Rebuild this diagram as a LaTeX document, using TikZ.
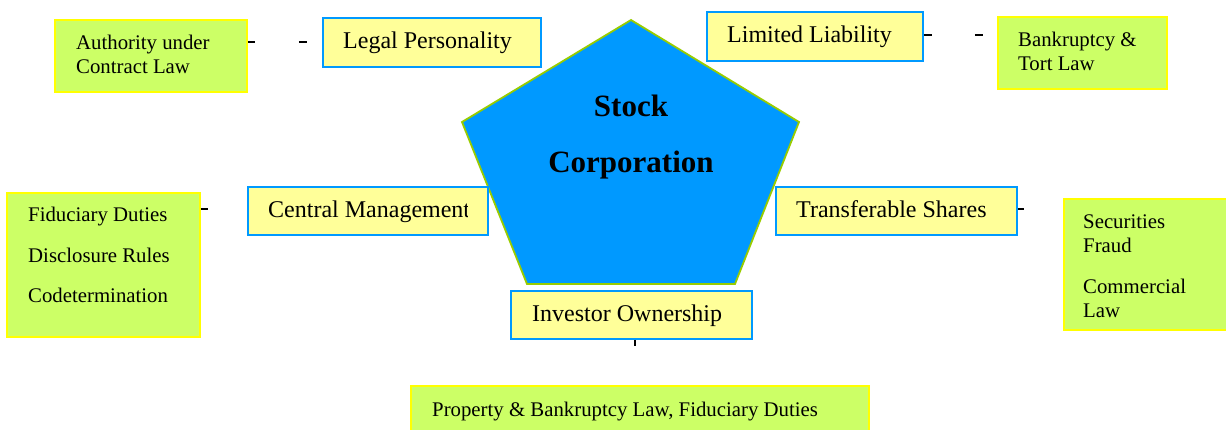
\documentclass[tikz,border=0pt]{standalone}
\usepackage{fontspec}
\setmainfont{Liberation Serif}
\definecolor{gfill}{HTML}{CCFF66}
\definecolor{gborder}{HTML}{FFFF00}
\definecolor{lfill}{HTML}{FFFF99}
\definecolor{lborder}{HTML}{0099FF}
\definecolor{pfill}{HTML}{0099FF}
\definecolor{pborder}{HTML}{99CC00}
\begin{document}
\begin{tikzpicture}[x=1pt,y=1pt,
  greenbox/.style={draw=gborder, fill=gfill, line width=1.8pt, inner sep=0pt, anchor=north west},
  labelbox/.style={draw=lborder, fill=lfill, line width=1.8pt, inner sep=0pt, anchor=north west},
  gtext/.style={font=\fontsize{20.8}{25}\selectfont, anchor=base west, inner sep=0pt},
  ltext/.style={font=\fontsize{24}{28}\selectfont, anchor=base west, inner sep=0pt},
  ptext/.style={font=\fontsize{31}{36}\selectfont\bfseries, anchor=base, inner sep=0pt},
  stub/.style={line width=1.6pt, black}]
\useasboundingbox (0,0) rectangle (1226,-430);
\clip (0,0) rectangle (1226,-430);
% central pentagon
\draw[fill=pfill, draw=pborder, line width=1.8pt, line join=miter]
  (631,-20) -- (799,-122) -- (735,-284) -- (527,-284) -- (462,-122) -- cycle;
\node[ptext] (stock) at (631,-117) {Stock};
\node[ptext] (corp) at (631,-173) {Corporation};
% label boxes
\node[labelbox, minimum width=218, minimum height=49] (legal) at (322,-17) {};
\node[ltext] (legalt) at (343,-49) {Legal Personality};
\node[labelbox, minimum width=216, minimum height=49] (limited) at (706,-11) {};
\node[ltext] (limitedt) at (727,-43) {Limited Liability};
\node[labelbox, minimum width=240, minimum height=48] (central) at (247,-186) {};
\begin{scope}
  \clip (247,-186) rectangle (467,-234);
  \node[ltext] (centralt) at (268,-218) {Central Management};
\end{scope}
\node[labelbox, minimum width=241, minimum height=48] (trans) at (775,-186) {};
\node[ltext] (transt) at (796,-218) {Transferable Shares};
\node[labelbox, minimum width=241, minimum height=48] (invest) at (510,-290) {};
\node[ltext] (investt) at (532,-322) {Investor Ownership};
% green boxes
\node[greenbox, minimum width=192, minimum height=72] (auth) at (54,-19) {};
\node[gtext] (auth1) at (76,-50) {Authority under};
\node[gtext] (auth2) at (76,-74) {Contract Law};
\node[greenbox, minimum width=169, minimum height=72] (bank) at (997,-16) {};
\node[gtext] (bank1) at (1018,-47) {Bankruptcy \&};
\node[gtext] (bank2) at (1018,-71) {Tort Law};
\node[greenbox, minimum width=193, minimum height=144] (fid) at (6,-192) {};
\node[gtext] (fid1) at (28,-222) {Fiduciary Duties};
\node[gtext] (fid2) at (28,-263) {Disclosure Rules};
\node[gtext] (fid3) at (28,-303) {Codetermination};
\node[greenbox, minimum width=180, minimum height=131] (sec) at (1063,-198) {};
\node[gtext] (sec1) at (1083,-229) {Securities};
\node[gtext] (sec2) at (1083,-253) {Fraud};
\node[gtext] (sec3) at (1083,-294) {Commercial};
\node[gtext] (sec4) at (1083,-318) {Law};
\node[greenbox, minimum width=458, minimum height=60] (prop) at (410,-385) {};
\node[gtext] (propt) at (432,-416) {Property \& Bankruptcy Law, Fiduciary Duties};
% broken connectors
\draw[stub, dash pattern=on 7pt off 44pt on 8pt off 200pt] (auth.east |- 0,-42) -- (legal.west |- 0,-42);
\draw[stub, dash pattern=on 8pt off 43pt on 8pt off 200pt] (limited.east |- 0,-35) -- (bank.west |- 0,-35);
\draw[stub, dash pattern=on 7pt off 200pt] (fid.east |- 0,-209) -- (central.west |- 0,-209);
\draw[stub, dash pattern=on 6pt off 200pt] (trans.east |- 0,-209) -- (sec.west |- 0,-209);
\draw[stub, dash pattern=on 6pt off 200pt] (invest.south -| 635,0) -- (prop.north -| 635,0);
\end{tikzpicture}
\end{document}
